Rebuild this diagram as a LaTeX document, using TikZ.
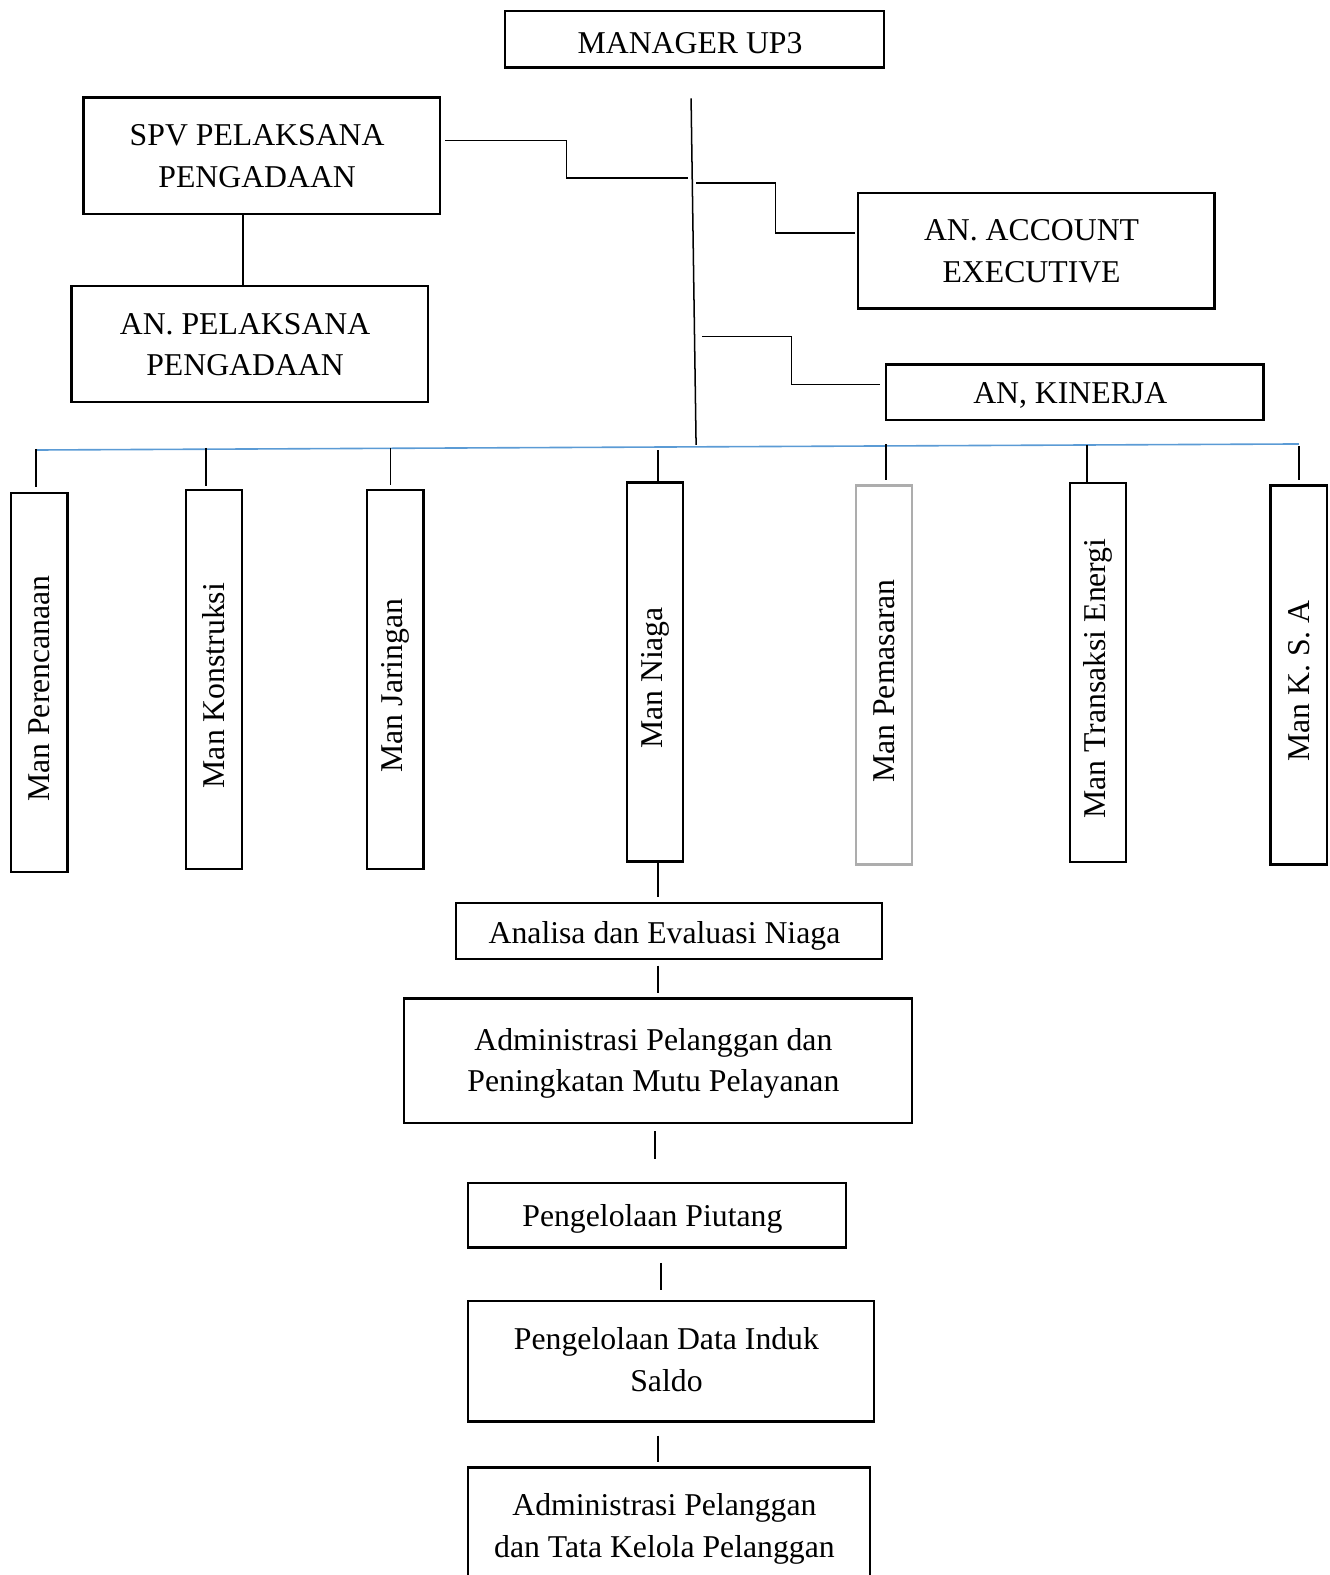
\documentclass[tikz,border=0pt]{standalone}
\usepackage{fontspec}
\usepackage{graphicx}
\setmainfont{Liberation Serif}
\usetikzlibrary{calc}
\newcommand\fs{\fontsize{15.8pt}{20.8pt}\selectfont}
\definecolor{wordblue}{RGB}{91,155,213}
\begin{document}
\begin{tikzpicture}[x=0.5pt,y=-0.5pt,
 box/.style={draw, line width=1.2pt, inner sep=0pt},
 txt/.style={font=\fs, align=center, inner sep=0pt, xshift=-2.25pt},
 one/.style={txt, yshift=-1.8pt},
 two/.style={txt, yshift=-0.3pt},
 vtxt/.style={font=\fs, inner sep=0pt, rotate=90, yshift=0pt, xshift=-3pt},
 vbox/.style={box, minimum width=28pt, minimum height=188.5pt},
 link/.style={line width=0.75pt},
 chain/.style={line width=0.9pt},
 bus/.style={draw=wordblue, line width=0.8pt}]
\useasboundingbox (0,0) rectangle (1324,1568);
\clip (0,0) rectangle (1324,1568);

% top boxes
\node[box, minimum width=188.5pt, minimum height=28pt, label={[one]center:MANAGER UP3}] (mgr) at (691.5,39) {};
\node[box, minimum width=177.5pt, minimum height=58pt, label={[two]center:SPV PELAKSANA\\PENGADAAN}] (spv) at (260.5,155) {};
\node[box, minimum width=177.5pt, minimum height=57.5pt, label={[two]center:AN. PELAKSANA\\PENGADAAN}] (anpel) at (248.5,342.5) {};
\node[box, minimum width=177.5pt, minimum height=57.5pt, label={[two]center:AN. ACCOUNT\\EXECUTIVE}] (ae) at (1031.5,249.5) {};
\node[box, minimum width=188pt, minimum height=27.5pt, label={[one]center:AN, KINERJA}] (kin) at (1070,390.5) {};

% trunk
\coordinate (mtop) at (688,98);
\coordinate (mbot) at (693,443);
\coordinate (t1) at (685,177);
\coordinate (t2) at (693,182);
\coordinate (t3) at (699,335);
\draw[link] (mtop) -- (mbot);
\draw[link] ($(spv.east)+(4,-15)$) -- ++(121,0) |- (t1);
\draw[link] (t2) -- ++(79,0) |- ($(ae.west)+(-2,-17.5)$);
\draw[link] (t3) -- ++(89,0) |- ($(kin.west)+(-5,-7.5)$);
\draw[link] ($(spv.south)+(-18.5,0)$) -- ($(anpel.north)+(-6.5,0)$);

% bus
\coordinate (bL) at (36,448);
\coordinate (bR) at (1293,442);
\draw[bus] (bL) -- (bR);

% vertical boxes
\node[vbox, label={[vtxt]center:Man Perencanaan}] (per) at (39,679.5) {};
\node[vbox, label={[vtxt]center:Man Konstruksi}] (kon) at (213,676.5) {};
\node[vbox, label={[vtxt]center:Man Jaringan}] (jar) at (393.5,676.5) {};
\node[vbox, label={[vtxt]center:Man Niaga}] (nia) at (652,669) {};
\node[vbox, draw=black!32, label={[vtxt]center:Man Pemasaran}] (pem) at (880,672) {};
\node[vbox, label={[vtxt]center:Man Transaksi Energi}] (tra) at (1093,669.5) {};
\node[vbox, label={[vtxt]center:Man K. S. A}] (ksa) at (1293,672) {};

% stubs
\draw[link] ($(per.north)+(-3,-43)$) -- ($(per.north)+(-3,-5)$);
\draw[link] ($(kon.north)+(-8,-41)$) -- ($(kon.north)+(-8,-3)$);
\draw[link] ($(jar.north)+(-4.5,-41)$) -- ($(jar.north)+(-4.5,-4)$);
\draw[link] ($(nia.north)+(3,-31)$) -- ($(nia.north)+(3,0)$);
\draw[link] ($(pem.north)+(2,-40)$) -- ($(pem.north)+(2,-4)$);
\draw[link] ($(tra.north)+(-11,-37)$) -- ($(tra.north)+(-11,0)$);
\draw[link] ($(ksa.north)+(0,-38)$) -- ($(ksa.north)+(0,-4)$);

% lower chain
\node[box, minimum width=212pt, minimum height=28pt, label={[one, yshift=-0.6pt]center:Analisa dan Evaluasi Niaga}] (aen) at (666,927) {};
\node[box, minimum width=253pt, minimum height=62pt, label={[two, yshift=-1pt]center:Administrasi Pelanggan dan\\Peningkatan Mutu Pelayanan}] (adm1) at (655,1056) {};
\node[box, minimum width=188pt, minimum height=32pt, label={[one]center:Pengelolaan Piutang}] (piu) at (654,1210) {};
\node[box, minimum width=202pt, minimum height=60pt, label={[two, yshift=1pt]center:Pengelolaan Data Induk\\Saldo}] (dis) at (668,1355) {};
\node[box, minimum width=200pt, minimum height=58pt, label={[two, yshift=-1.2pt]center:Administrasi Pelanggan\\dan Tata Kelola Pelanggan}] (adm2) at (666,1519) {};

\draw[chain] ($(nia.south)+(3,0)$) -- ($(aen.north)+(-11,-5)$);
\draw[chain] ($(aen.south)+(-11,5)$) -- ($(adm1.north)+(0,-4)$);
\draw[chain] ($(adm1.south)+(-3,7)$) -- ($(piu.north)+(-2,-23)$);
\draw[chain] ($(piu.south)+(4,14)$) -- ($(dis.north)+(-10,-10)$);
\draw[chain] ($(dis.south)+(-13,13)$) -- ($(adm2.north)+(-11,-4)$);
\end{tikzpicture}
\end{document}
